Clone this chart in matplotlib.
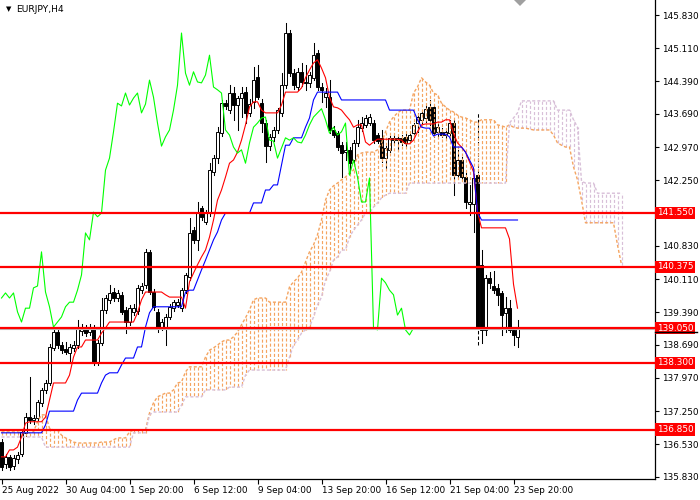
import matplotlib
matplotlib.use('Agg')
import matplotlib.pyplot as plt
from matplotlib.patches import Rectangle, Polygon
from matplotlib.lines import Line2D
import matplotlib.transforms as mtransforms

plt.rcParams['font.family'] = ['DejaVu Sans']
plt.rcParams['lines.scale_dashes'] = False

# ---------------- data (EURJPY H4) ----------------
opens = [136.58, 136.10, 136.26, 136.06, 136.22, 136.32, 136.78, 137.12, 137.06, 137.10,
         137.42, 137.71, 137.86, 138.62, 138.96, 138.68, 138.60, 138.50, 138.62, 138.68,
         138.98, 139.05, 138.96, 139.07, 138.31, 138.73, 139.44, 139.66, 139.83, 139.70,
         139.76, 139.44, 139.18, 139.40, 139.42, 139.87, 139.98, 140.70, 139.83, 139.40,
         139.07, 139.05, 139.29, 139.48, 139.55, 139.48, 139.87, 140.16, 141.17, 140.96,
         141.65, 141.35, 141.54, 142.43, 142.73, 143.27, 143.92, 143.77, 144.14, 143.88,
         144.03, 144.16, 143.71, 143.95, 144.49, 143.92, 143.49, 142.99, 143.19, 143.34,
         143.71, 144.31, 145.44, 144.57, 144.27, 144.60, 144.38, 144.36, 144.47, 145.01,
         144.27, 144.05, 144.05, 143.34, 143.27, 143.01, 142.86, 142.91, 142.69, 143.06,
         143.38, 143.45, 143.49, 143.49, 143.23, 143.17, 142.73, 142.91, 143.17, 143.12,
         143.17, 143.19, 143.12, 143.27, 143.49, 143.56, 143.60, 143.84, 143.84, 143.30,
         143.30, 143.23, 143.27, 143.49, 142.36, 142.69, 142.32, 141.74, 141.74, 142.36,
         140.42, 139.01, 140.13, 139.96, 139.92, 139.81, 139.38, 139.48, 139.01, 138.86]
highs = [136.65, 136.33, 136.30, 136.30, 136.36, 136.86, 137.21, 137.99, 137.16, 137.50,
         137.76, 137.92, 138.70, 139.02, 139.05, 138.75, 138.75, 138.70, 138.76, 139.22,
         139.14, 139.12, 139.14, 139.12, 138.80, 139.70, 139.76, 139.98, 139.92, 139.88,
         139.82, 139.50, 139.55, 139.56, 139.98, 140.02, 140.76, 140.74, 139.90, 139.46,
         139.24, 139.36, 139.56, 139.66, 139.68, 139.92, 140.24, 141.43, 141.24, 141.78,
         141.70, 141.60, 142.62, 142.80, 143.40, 143.98, 143.98, 144.31, 144.27, 144.08,
         144.27, 144.27, 144.00, 144.70, 144.75, 144.00, 143.55, 143.25, 143.40, 143.82,
         144.57, 145.66, 145.50, 144.66, 144.68, 144.79, 144.75, 144.60, 145.22, 145.08,
         144.35, 144.25, 144.42, 143.42, 143.32, 143.08, 143.08, 142.98, 143.12, 143.56,
         143.62, 143.66, 143.68, 143.55, 143.28, 143.34, 143.00, 143.22, 143.24, 143.22,
         143.24, 143.26, 143.28, 143.50, 143.70, 143.76, 143.86, 143.99, 143.88, 143.50,
         143.38, 143.36, 143.55, 143.56, 142.90, 142.75, 142.40, 142.15, 142.32, 143.71,
         140.74, 140.20, 140.26, 140.29, 140.00, 139.86, 139.72, 139.66, 139.06, 139.22]
lows = [135.98, 136.02, 135.98, 136.00, 136.12, 136.28, 136.72, 137.00, 136.98, 137.05,
        137.36, 137.64, 137.82, 138.58, 138.62, 138.50, 138.48, 138.29, 138.55, 138.62,
        138.90, 138.88, 138.90, 138.26, 138.26, 138.68, 139.38, 139.60, 139.64, 139.64,
        139.36, 138.94, 139.12, 139.34, 139.36, 139.80, 139.92, 139.78, 139.44, 138.96,
        139.00, 138.68, 139.24, 139.42, 139.50, 139.42, 139.80, 140.10, 140.90, 140.74,
        141.40, 141.30, 141.48, 142.36, 142.62, 143.20, 143.80, 143.70, 143.56, 143.34,
        143.62, 143.49, 143.64, 143.82, 144.00, 143.30, 142.65, 142.91, 143.10, 143.28,
        143.65, 144.25, 144.50, 144.22, 144.20, 144.30, 144.20, 144.28, 144.42, 144.20,
        143.95, 143.84, 143.27, 143.18, 142.91, 142.32, 142.69, 142.41, 142.60, 143.00,
        143.32, 143.40, 143.44, 143.06, 143.06, 142.65, 142.52, 142.86, 143.06, 142.91,
        143.02, 143.00, 143.06, 143.20, 143.30, 143.50, 143.51, 143.45, 143.19, 143.20,
        143.18, 143.16, 143.20, 141.93, 142.30, 142.25, 141.65, 141.50, 141.13, 138.68,
        138.73, 138.90, 139.92, 139.80, 139.55, 138.90, 138.96, 138.96, 138.68, 138.64]
closes = [136.04, 136.26, 136.04, 136.24, 136.30, 136.80, 137.12, 137.06, 137.10, 137.45,
          137.71, 137.86, 138.64, 138.96, 138.68, 138.57, 138.53, 138.64, 138.68, 139.05,
          139.07, 138.94, 139.07, 138.31, 138.73, 139.44, 139.70, 139.81, 139.70, 139.81,
          139.40, 139.18, 139.48, 139.48, 139.92, 139.96, 140.70, 139.83, 139.51, 139.07,
          139.18, 139.29, 139.51, 139.61, 139.61, 139.87, 140.20, 141.11, 140.96, 141.56,
          141.46, 141.54, 142.47, 142.73, 143.30, 143.92, 143.86, 144.14, 143.88, 144.03,
          144.14, 143.71, 143.90, 144.42, 144.05, 143.49, 142.99, 143.19, 143.34, 143.77,
          144.31, 145.44, 144.57, 144.31, 144.60, 144.38, 144.36, 144.53, 144.96, 144.27,
          144.21, 144.14, 143.34, 143.23, 142.97, 142.84, 142.91, 142.62, 143.06, 143.40,
          143.49, 143.60, 143.62, 143.12, 143.10, 142.73, 142.95, 143.17, 143.12, 143.17,
          143.08, 143.06, 143.23, 143.45, 143.62, 143.71, 143.80, 143.56, 143.27, 143.40,
          143.23, 143.30, 143.49, 142.36, 142.69, 142.32, 141.78, 141.78, 142.30, 139.05,
          139.01, 140.13, 140.03, 139.87, 139.77, 139.33, 139.48, 139.01, 138.90, 139.05]

tenkan = [136.26, 136.26, 136.41, 136.41, 136.47, 136.69, 136.99, 137.02, 137.02, 137.02,
          137.02, 137.12, 137.49, 137.86, 137.86, 137.86, 137.86, 138.03, 138.42, 138.64,
          138.64, 138.79, 138.79, 138.79, 138.79, 138.94, 139.05, 139.18, 139.18, 139.18,
          139.18, 139.18, 139.18, 139.18, 139.38, 139.66, 139.83, 139.83, 139.83, 139.83,
          139.83, 139.77, 139.72, 139.72, 139.72, 139.72, 139.48, 140.05, 140.24, 140.42,
          140.59, 140.74, 141.02, 141.39, 141.82, 142.04, 142.32, 142.62, 142.69, 142.86,
          143.12, 143.45, 143.84, 143.95, 143.95, 143.77, 143.71, 143.71, 143.71, 143.71,
          143.88, 144.16, 144.16, 144.16, 144.16, 144.25, 144.47, 144.64, 144.79, 144.86,
          144.68, 144.47, 144.05, 143.84, 143.82, 143.77, 143.66, 143.56, 143.40, 143.45,
          143.45, 143.08, 143.01, 143.08, 143.14, 143.14, 143.14, 143.14, 143.14, 143.14,
          143.12, 143.04, 143.04, 143.12, 143.30, 143.45, 143.47, 143.47, 143.47, 143.51,
          143.51, 143.56, 143.56, 143.27, 143.06, 142.97, 142.86, 142.65, 142.43, 141.56,
          141.22, 141.22, 141.22, 141.22, 141.22, 141.22, 141.22, 140.98, 140.00, 139.48]

kijun = [136.78] * 11 + [136.95] + [137.25] * 7 + [137.49] + [137.64] * 5 + \
        [137.86, 138.03, 138.08, 138.08, 138.08, 138.25, 138.40, 138.40, 138.40, 138.64,
         138.64, 139.07, 139.38] + [139.51] * 8 + \
        [139.83, 139.87, 139.87, 140.09, 140.31, 140.52, 140.74, 140.96, 141.13, 141.39] + \
        [141.54] * 7 + [141.76] * 3 + [142.04, 142.04, 142.15, 142.15, 142.58, 143.01, 143.01,
         143.17, 143.17, 143.17, 143.40, 143.60, 143.99] + [144.16] * 6 + [143.99] * 12 + \
        [143.77] * 7 + [143.56, 143.40, 143.38, 143.38, 143.21, 143.25, 143.25, 143.25, 143.19,
         142.97, 142.97, 142.97, 142.86, 142.69, 142.52, 141.56] + [141.39] * 10

span_a = [136.80, 136.80, 136.80, 136.80, 136.80, 136.78, 136.78, 136.78, 136.80, 137.02,
          137.17, 137.17, 136.88, 136.84, 136.84, 136.73, 136.67, 136.63, 136.58, 136.56,
          136.56, 136.56, 136.56, 136.56, 136.56, 136.58, 136.58, 136.58, 136.63, 136.67,
          136.67, 136.67, 136.80, 136.84, 136.84, 136.84, 136.84, 137.21, 137.43, 137.56,
          137.60, 137.64, 137.64, 137.71, 137.86, 137.88, 138.10, 138.21, 138.21, 138.21,
          138.21, 138.42, 138.57, 138.62, 138.68, 138.75, 138.79, 138.79, 138.86, 138.96,
          139.12, 139.27, 139.44, 139.66, 139.70, 139.70, 139.70, 139.61, 139.61, 139.61,
          139.61, 139.61, 139.94, 140.05, 140.13, 140.26, 140.48, 140.70, 140.85, 141.07,
          141.39, 141.82, 142.04, 142.13, 142.19, 142.26, 142.32, 142.41, 142.47, 142.80,
          142.84, 142.86, 142.86, 142.86, 142.91, 143.06, 143.30, 143.51, 143.62, 143.71,
          143.77, 143.77, 143.77, 144.14, 144.27, 144.47, 144.38, 144.31, 144.14, 144.10,
          143.92, 143.84, 143.77, 143.73, 143.66, 143.62, 143.60, 143.56, 143.51, 143.51,
          143.56, 143.56, 143.56, 143.56, 143.45, 143.43, 143.40, 143.45, 143.40, 143.38,
          143.38, 143.38, 143.36, 143.34, 143.34, 143.34, 143.34, 143.34, 143.23, 143.06,
          143.01, 142.97, 142.97, 142.54, 142.26, 141.82, 141.33, 141.33, 141.33, 141.33,
          141.33, 141.33, 141.33, 141.33, 140.85, 140.42]

span_b = [136.69] * 11 + [136.47] * 22 + [136.78] * 4 + [137.17] + [137.23] * 7 + \
         [137.38] + [137.56] * 5 + [137.71] * 6 + [137.77] * 4 + [138.03] + [138.14] * 10 + \
         [138.42, 138.68, 138.79, 138.94, 139.01, 139.07, 139.29, 139.55, 139.72, 140.09,
          140.26, 140.52, 140.59, 140.74, 140.74, 141.02, 141.17, 141.28, 141.39, 141.54,
          141.54, 141.67, 141.76, 141.87, 141.93] + [141.97] * 5 + [142.19] * 25 + \
         [143.49, 143.60, 143.71] + [143.97] * 9 + [143.77] * 4 + [143.56, 143.40, 142.23] + \
         [142.19] * 3 + [141.97] * 7

levels = [141.550, 140.375, 139.050, 138.300, 136.850]
level_labels = ['141.550', '140.375', '139.050', '138.300', '136.850']
bid = 139.03

ytick_vals = [145.830, 145.110, 144.390, 143.690, 142.970, 142.250, 140.830,
              140.110, 139.390, 138.690, 137.970, 137.250, 136.530, 135.830]
xtick_bars = [0, 16, 32, 48, 64, 80, 96, 112, 128]
xtick_labels = ['25 Aug 2022', '30 Aug 04:00', '1 Sep 20:00', '6 Sep 12:00', '9 Sep 04:00',
                '13 Sep 20:00', '16 Sep 12:00', '21 Sep 04:00', '23 Sep 20:00']
chikou_shift = 26
dashed_wick_bar = 119

# ---------------- figure ----------------
fig = plt.figure(figsize=(7, 5), dpi=100)
ax = fig.add_axes([0, 21 / 500, 655 / 700, 479 / 500])
ax.set_xlim(-0.375, 163.375)
ax.set_ylim(135.78, 146.155)

n = len(closes)
# candles
for i in range(n):
    o, h, l, c = opens[i], highs[i], lows[i], closes[i]
    ls = (0, (2.5, 1.5)) if i == dashed_wick_bar else '-'
    ax.add_line(Line2D([i, i], [l, h], color='black', lw=0.75, ls=ls, zorder=2))
    bottom = min(o, c)
    height = max(abs(c - o), 0.012)
    face = 'white' if c >= o else 'black'
    ax.add_patch(Rectangle((i - 0.3, bottom), 0.6, height, facecolor=face,
                           edgecolor='black', lw=0.7, zorder=2.5))

# Ichimoku cloud (histogram of dotted vertical lines)
SANDY = '#F4A460'
THISTLE = '#D8BFD8'
cloud_x = list(range(len(span_a)))
cloud_cols = [SANDY if a >= b else THISTLE for a, b in zip(span_a, span_b)]
ax.vlines(cloud_x, span_a, span_b, colors=cloud_cols, linewidths=0.85,
          linestyles=[(0, (2.2, 1.5))], zorder=3)
ax.plot(cloud_x, span_a, color=SANDY, lw=1.0, ls=(0, (2.2, 1.5)), zorder=3.2)
ax.plot(cloud_x, span_b, color=THISTLE, lw=1.0, ls=(0, (2.2, 1.5)), zorder=3.2)

# Tenkan, Kijun, Chikou
xs = list(range(n))
ax.plot(xs, tenkan, color='#FF0000', lw=0.8, zorder=4)
ax.plot(xs, kijun, color='#0000FF', lw=0.8, zorder=4)
ax.plot([i - chikou_shift for i in range(chikou_shift, n)], closes[chikou_shift:],
        color='#00FF00', lw=0.8, zorder=4)

# bid line and levels
ax.axhline(bid, color='#BEBEBE', lw=0.8, zorder=4.5)
blend = mtransforms.blended_transform_factory(ax.transAxes, ax.transData)
for v, lab in zip(levels, level_labels):
    ax.axhline(v, color='#FF0000', lw=1.6, zorder=5)
    ax.text(1.0025, v, lab, transform=blend, color='white', fontsize=6.4,
            ha='left', va='center', zorder=6, clip_on=False,
            bbox=dict(boxstyle='square,pad=0.18', fc='#FF0000', ec='none'))
ax.add_line(Line2D([1.0, 1.064], [138.96, 138.96], transform=blend, color='black',
                   lw=1.0, clip_on=False, zorder=6))

# axes styling
for s in ['top', 'left']:
    ax.spines[s].set_visible(False)
for s in ['right', 'bottom']:
    ax.spines[s].set_color('black')
    ax.spines[s].set_linewidth(0.9)
ax.yaxis.tick_right()
ax.set_yticks(ytick_vals)
ax.set_yticklabels(['%.3f' % v for v in ytick_vals])
ax.tick_params(axis='y', direction='out', length=3, width=0.8, labelsize=6.4, pad=2,
               colors='black')
ax.set_xticks(xtick_bars)
ax.set_xticklabels(xtick_labels)
ax.tick_params(axis='x', direction='out', length=3.5, width=0.8, labelsize=6.4, pad=1.5)
for lbl in ax.get_xticklabels():
    lbl.set_horizontalalignment('left')

# title
fig.text(6 / 700, 1 - 9 / 500, '\u25BC', fontsize=5, ha='left', va='center', color='black')
fig.text(16 / 700, 1 - 9 / 500, 'EURJPY,H4', fontsize=6.6, ha='left', va='center',
         color='black')
# shift marker
fig.add_artist(Polygon([[514 / 700, 1.0], [526 / 700, 1.0], [520 / 700, 1 - 6 / 500]],
                       closed=True, transform=fig.transFigure, fc='#A0A0A0', ec='none'))

fig.savefig('out.png', dpi=100, facecolor='white')
